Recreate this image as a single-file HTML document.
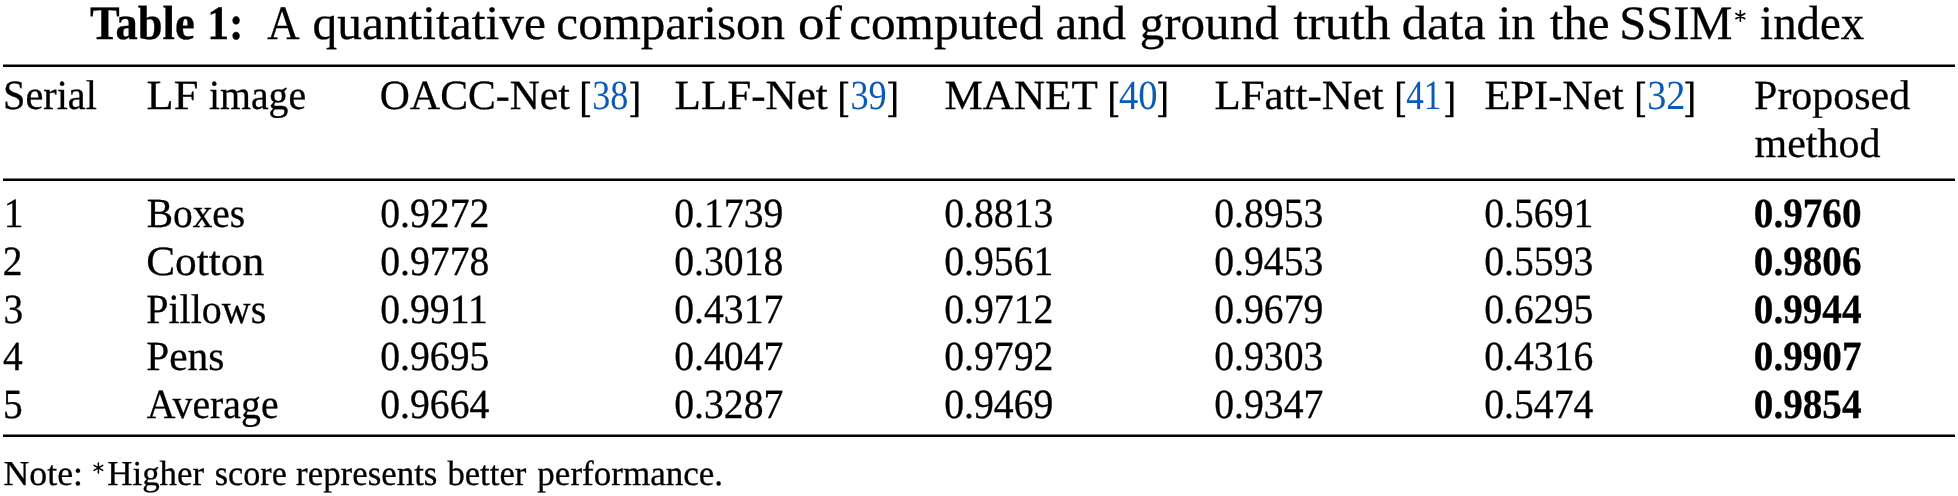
<!DOCTYPE html>
<html><head><meta charset="utf-8"><title>Table 1</title>
<style>
html,body{margin:0;padding:0;background:#fff;}
body{width:1958px;height:496px;overflow:hidden;}
svg{display:block;will-change:transform;font-family:"Liberation Serif", serif;text-rendering:geometricPrecision;}
</style></head><body>
<svg width="1958" height="496" viewBox="0 0 1958 496">
<g fill="#000">
<g stroke="#000" stroke-width="0.3">
<text x="90.00" y="39.00" font-size="48" font-weight="bold" textLength="104.68" lengthAdjust="spacingAndGlyphs">Table</text>
<text x="207.27" y="39.00" font-size="48" font-weight="bold" textLength="36.35" lengthAdjust="spacingAndGlyphs">1:</text>
<text x="267.20" y="39.00" font-size="48" textLength="32.29" lengthAdjust="spacingAndGlyphs">A</text>
<text x="312.47" y="39.00" font-size="48" textLength="233.47" lengthAdjust="spacingAndGlyphs">quantitative</text>
<text x="556.38" y="39.00" font-size="48" textLength="228.72" lengthAdjust="spacingAndGlyphs">comparison</text>
<text x="797.90" y="39.00" font-size="48" textLength="44.09" lengthAdjust="spacingAndGlyphs">of</text>
<text x="849.17" y="39.00" font-size="48" textLength="194.13" lengthAdjust="spacingAndGlyphs">computed</text>
<text x="1055.48" y="39.00" font-size="48" textLength="70.52" lengthAdjust="spacingAndGlyphs">and</text>
<text x="1139.76" y="39.00" font-size="48" textLength="138.94" lengthAdjust="spacingAndGlyphs">ground</text>
<text x="1293.40" y="39.00" font-size="48" textLength="97.10" lengthAdjust="spacingAndGlyphs">truth</text>
<text x="1401.65" y="39.00" font-size="48" textLength="84.17" lengthAdjust="spacingAndGlyphs">data</text>
<text x="1498.01" y="39.00" font-size="48" textLength="36.99" lengthAdjust="spacingAndGlyphs">in</text>
<text x="1549.70" y="39.00" font-size="48" textLength="59.93" lengthAdjust="spacingAndGlyphs">the</text>
<text x="1619.16" y="39.00" font-size="48" textLength="113.42" lengthAdjust="spacingAndGlyphs">SSIM</text>
<text x="1760.12" y="39.00" font-size="48" textLength="104.18" lengthAdjust="spacingAndGlyphs">index</text>
<text x="3.06" y="108.80" font-size="41.5" textLength="93.85" lengthAdjust="spacingAndGlyphs">Serial</text>
<text x="146.63" y="108.80" font-size="41.5" textLength="51.72" lengthAdjust="spacingAndGlyphs">LF</text>
<text x="209.00" y="108.80" font-size="41.5" textLength="97.16" lengthAdjust="spacingAndGlyphs">image</text>
<text x="379.89" y="108.80" font-size="41.5" textLength="190.03" lengthAdjust="spacingAndGlyphs">OACC-Net</text>
<text x="592.23" y="108.80" font-size="41.5" fill="#0a5ab8" stroke="none" textLength="36.02" lengthAdjust="spacingAndGlyphs">38</text>
<text x="674.56" y="108.80" font-size="41.5" textLength="153.25" lengthAdjust="spacingAndGlyphs">LLF-Net</text>
<text x="850.43" y="108.80" font-size="41.5" fill="#0a5ab8" stroke="none" textLength="36.23" lengthAdjust="spacingAndGlyphs">39</text>
<text x="944.46" y="108.80" font-size="41.5" textLength="153.30" lengthAdjust="spacingAndGlyphs">MANET</text>
<text x="1119.00" y="108.80" font-size="41.5" fill="#0a5ab8" stroke="none" textLength="38.60" lengthAdjust="spacingAndGlyphs">40</text>
<text x="1214.47" y="108.80" font-size="41.5" textLength="169.25" lengthAdjust="spacingAndGlyphs">LFatt-Net</text>
<text x="1406.30" y="108.80" font-size="41.5" fill="#0a5ab8" stroke="none" textLength="35.08" lengthAdjust="spacingAndGlyphs">41</text>
<text x="1484.48" y="108.80" font-size="41.5" textLength="139.24" lengthAdjust="spacingAndGlyphs">EPI-Net</text>
<text x="1647.18" y="108.80" font-size="41.5" fill="#0a5ab8" stroke="none" textLength="38.23" lengthAdjust="spacingAndGlyphs">32</text>
<text x="1754.09" y="108.70" font-size="41.5" textLength="156.06" lengthAdjust="spacingAndGlyphs">Proposed</text>
<text x="1754.50" y="156.70" font-size="41.5" textLength="125.95" lengthAdjust="spacingAndGlyphs">method</text>
<text x="3.65" y="227.20" font-size="41.5" textLength="19.71" lengthAdjust="spacingAndGlyphs">1</text>
<text x="146.65" y="227.20" font-size="41.5" textLength="98.54" lengthAdjust="spacingAndGlyphs">Boxes</text>
<text x="380.24" y="227.20" font-size="41.5" textLength="109.13" lengthAdjust="spacingAndGlyphs">0.9272</text>
<text x="674.24" y="227.20" font-size="41.5" textLength="109.13" lengthAdjust="spacingAndGlyphs">0.1739</text>
<text x="944.24" y="227.20" font-size="41.5" textLength="109.13" lengthAdjust="spacingAndGlyphs">0.8813</text>
<text x="1214.24" y="227.20" font-size="41.5" textLength="109.13" lengthAdjust="spacingAndGlyphs">0.8953</text>
<text x="1484.24" y="227.20" font-size="41.5" textLength="109.13" lengthAdjust="spacingAndGlyphs">0.5691</text>
<text x="1753.86" y="227.20" font-size="41.5" font-weight="bold" textLength="107.65" lengthAdjust="spacingAndGlyphs">0.9760</text>
<text x="2.65" y="274.85" font-size="41.5" textLength="19.71" lengthAdjust="spacingAndGlyphs">2</text>
<text x="146.15" y="274.85" font-size="41.5" textLength="118.08" lengthAdjust="spacingAndGlyphs">Cotton</text>
<text x="380.24" y="274.85" font-size="41.5" textLength="109.13" lengthAdjust="spacingAndGlyphs">0.9778</text>
<text x="674.24" y="274.85" font-size="41.5" textLength="109.13" lengthAdjust="spacingAndGlyphs">0.3018</text>
<text x="944.24" y="274.85" font-size="41.5" textLength="109.13" lengthAdjust="spacingAndGlyphs">0.9561</text>
<text x="1214.24" y="274.85" font-size="41.5" textLength="109.13" lengthAdjust="spacingAndGlyphs">0.9453</text>
<text x="1484.24" y="274.85" font-size="41.5" textLength="109.13" lengthAdjust="spacingAndGlyphs">0.5593</text>
<text x="1753.86" y="274.85" font-size="41.5" font-weight="bold" textLength="107.65" lengthAdjust="spacingAndGlyphs">0.9806</text>
<text x="3.45" y="322.50" font-size="41.5" textLength="19.71" lengthAdjust="spacingAndGlyphs">3</text>
<text x="146.24" y="322.50" font-size="41.5" textLength="119.97" lengthAdjust="spacingAndGlyphs">Pillows</text>
<text x="380.24" y="322.50" font-size="41.5" textLength="107.66" lengthAdjust="spacingAndGlyphs">0.9911</text>
<text x="674.24" y="322.50" font-size="41.5" textLength="109.13" lengthAdjust="spacingAndGlyphs">0.4317</text>
<text x="944.24" y="322.50" font-size="41.5" textLength="109.13" lengthAdjust="spacingAndGlyphs">0.9712</text>
<text x="1214.24" y="322.50" font-size="41.5" textLength="109.13" lengthAdjust="spacingAndGlyphs">0.9679</text>
<text x="1484.24" y="322.50" font-size="41.5" textLength="109.13" lengthAdjust="spacingAndGlyphs">0.6295</text>
<text x="1753.86" y="322.50" font-size="41.5" font-weight="bold" textLength="107.65" lengthAdjust="spacingAndGlyphs">0.9944</text>
<text x="3.00" y="370.15" font-size="41.5" textLength="19.71" lengthAdjust="spacingAndGlyphs">4</text>
<text x="146.20" y="370.15" font-size="41.5" textLength="78.14" lengthAdjust="spacingAndGlyphs">Pens</text>
<text x="380.24" y="370.15" font-size="41.5" textLength="109.13" lengthAdjust="spacingAndGlyphs">0.9695</text>
<text x="674.24" y="370.15" font-size="41.5" textLength="109.13" lengthAdjust="spacingAndGlyphs">0.4047</text>
<text x="944.24" y="370.15" font-size="41.5" textLength="109.13" lengthAdjust="spacingAndGlyphs">0.9792</text>
<text x="1214.24" y="370.15" font-size="41.5" textLength="109.13" lengthAdjust="spacingAndGlyphs">0.9303</text>
<text x="1484.24" y="370.15" font-size="41.5" textLength="109.13" lengthAdjust="spacingAndGlyphs">0.4316</text>
<text x="1753.86" y="370.15" font-size="41.5" font-weight="bold" textLength="107.65" lengthAdjust="spacingAndGlyphs">0.9907</text>
<text x="3.10" y="417.80" font-size="41.5" textLength="19.71" lengthAdjust="spacingAndGlyphs">5</text>
<text x="146.80" y="417.80" font-size="41.5" textLength="131.76" lengthAdjust="spacingAndGlyphs">Average</text>
<text x="380.24" y="417.80" font-size="41.5" textLength="109.13" lengthAdjust="spacingAndGlyphs">0.9664</text>
<text x="674.24" y="417.80" font-size="41.5" textLength="109.13" lengthAdjust="spacingAndGlyphs">0.3287</text>
<text x="944.24" y="417.80" font-size="41.5" textLength="109.13" lengthAdjust="spacingAndGlyphs">0.9469</text>
<text x="1214.24" y="417.80" font-size="41.5" textLength="109.13" lengthAdjust="spacingAndGlyphs">0.9347</text>
<text x="1484.24" y="417.80" font-size="41.5" textLength="109.13" lengthAdjust="spacingAndGlyphs">0.5474</text>
<text x="1753.86" y="417.80" font-size="41.5" font-weight="bold" textLength="107.65" lengthAdjust="spacingAndGlyphs">0.9854</text>
<text x="3.48" y="484.70" font-size="35" textLength="79.51" lengthAdjust="spacingAndGlyphs">Note:</text>
<text x="107.20" y="484.70" font-size="35" textLength="97.05" lengthAdjust="spacingAndGlyphs">Higher</text>
<text x="214.72" y="484.70" font-size="35" textLength="72.10" lengthAdjust="spacingAndGlyphs">score</text>
<text x="296.10" y="484.70" font-size="35" textLength="141.32" lengthAdjust="spacingAndGlyphs">represents</text>
<text x="447.40" y="484.70" font-size="35" textLength="78.96" lengthAdjust="spacingAndGlyphs">better</text>
<text x="537.30" y="484.70" font-size="35" textLength="185.85" lengthAdjust="spacingAndGlyphs">performance.</text>
</g>
<path d="M1740.35 21.30L1740.35 10.90M1735.85 18.70L1744.85 13.50M1735.85 13.50L1744.85 18.70" stroke="#000" stroke-width="1.6" stroke-linecap="round" fill="none"/>
<path d="M98.40 472.90L98.40 462.90M94.07 470.40L102.73 465.40M94.07 465.40L102.73 470.40" stroke="#000" stroke-width="1.5" stroke-linecap="round" fill="none"/>
<path d="M581.90 81.6h8.2v1.9h-4.80v31.80h4.80v1.9h-8.2z"/>
<path d="M638.50 81.6h-8.2v1.9h4.80v31.80h-4.80v1.9h8.2z"/>
<path d="M840.10 81.6h8.2v1.9h-4.80v31.80h4.80v1.9h-8.2z"/>
<path d="M896.40 81.6h-8.2v1.9h4.80v31.80h-4.80v1.9h8.2z"/>
<path d="M1110.10 81.6h8.2v1.9h-4.80v31.80h4.80v1.9h-8.2z"/>
<path d="M1166.40 81.6h-8.2v1.9h4.80v31.80h-4.80v1.9h8.2z"/>
<path d="M1396.90 81.6h8.2v1.9h-4.80v31.80h4.80v1.9h-8.2z"/>
<path d="M1453.50 81.6h-8.2v1.9h4.80v31.80h-4.80v1.9h8.2z"/>
<path d="M1636.90 81.6h8.2v1.9h-4.80v31.80h4.80v1.9h-8.2z"/>
<path d="M1693.50 81.6h-8.2v1.9h4.80v31.80h-4.80v1.9h8.2z"/>
<rect x="3" y="64.5" width="1952" height="2.5" fill="#000"/>
<rect x="3" y="178.5" width="1952" height="2.5" fill="#000"/>
<rect x="3" y="434.5" width="1952" height="2.5" fill="#000"/>
</g>
</svg>
</body></html>
